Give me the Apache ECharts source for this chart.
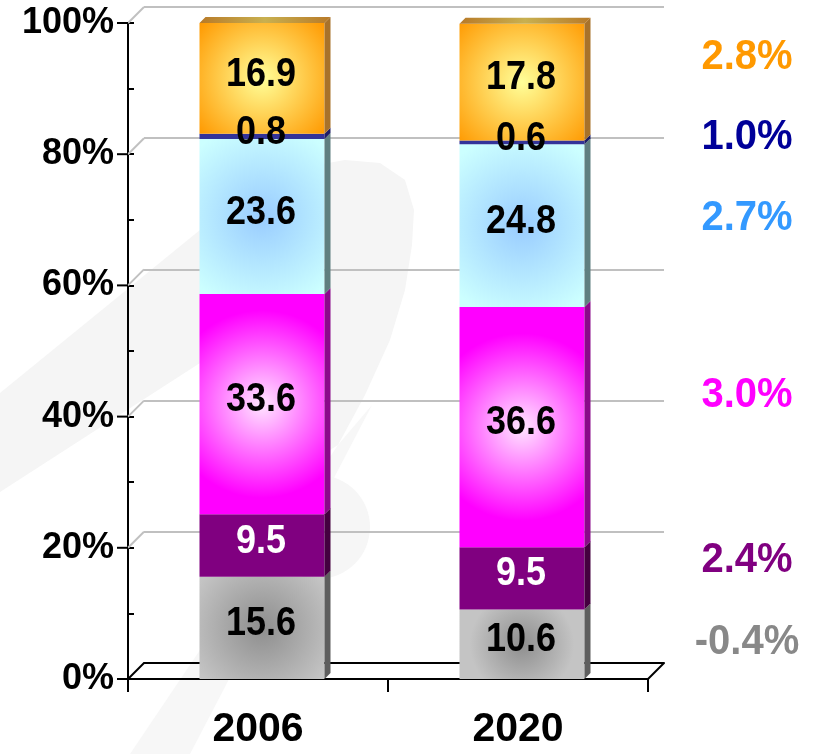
<!DOCTYPE html>
<html>
<head>
<meta charset="utf-8">
<script src="https://cdn.jsdelivr.net/npm/echarts@6/dist/echarts.min.js"></script>
<style>
  html, body { margin: 0; padding: 0; background: #fff; }
  #chart { width: 825px; height: 754px; }
</style>
</head>
<body>
<div id="chart"></div>
<script>
// categories and shares (% of total), stacked bottom to top
const years = ['2006', '2020'];
const segments = ['gray', 'purple', 'magenta', 'cyan', 'blue', 'orange'];
const shares2006 = [15.6, 9.5, 33.6, 23.6, 0.8, 16.9];
const shares2020 = [10.6, 9.5, 36.6, 24.8, 0.6, 17.8];
// growth rates written at the right side, and the height (in %) they sit at
const growth = ['-0.4%', '2.4%', '3.0%', '2.7%', '1.0%', '2.8%'];
const growthAt = [5.6, 18.1, 43.3, 70.3, 82.6, 94.7];
const yTicks = [0, 20, 40, 60, 80, 100];

const FONT = '"Liberation Sans", Arial, sans-serif';
const DEPTH = 6;
const BAR_W = 125;

function radial(edge, center) {
  return new echarts.graphic.RadialGradient(0.5, 0.5, 0.75, [
    { offset: 0, color: center },
    { offset: 1, color: edge }
  ]);
}

const faceStyle = [
  { color: radial('#c4c4c4', '#8e8e8e'), side: '#5e5e5e', label: '#000' },
  { color: '#800080', side: '#44003f', label: '#fff' },
  { color: radial('#ff00ff', '#ffe6ff'), side: '#8a0a8a', label: '#000' },
  { color: radial('#ccffff', '#99ccff'), side: '#5f7f80', label: '#000' },
  { color: '#333399', side: '#1d1d66', label: '#000' },
  { color: radial('#ff9900', '#ffff99'), side: '#a8722a', label: '#000' }
];

const chart = echarts.init(document.getElementById('chart'));

// one entry per stacked piece: [category, base, top, segment, isTop, value]
const pieces = [];
[shares2006, shares2020].forEach((arr, ci) => {
  let base = 0;
  arr.forEach((v, si) => {
    pieces.push([ci, base, base + v, si, si === arr.length - 1 ? 1 : 0, v]);
    base += v;
  });
});

const barSeries = segments.map((name, si) => ({
  name: name,
  type: 'bar',
  stack: 'total',
  xAxisIndex: 2,
  yAxisIndex: 2,
  barWidth: BAR_W,
  z: 3,
  itemStyle: { color: faceStyle[si].color },
  data: [shares2006[si], shares2020[si]]
}));

// side/top faces of the 3D bars plus the value labels (slightly tall type)
const depthSeries = {
  type: 'custom',
  xAxisIndex: 2,
  yAxisIndex: 2,
  z: 4,
  silent: true,
  data: pieces,
  renderItem: function (params, api) {
    const c = api.value(0);
    const b = api.coord([c, api.value(1)]);
    const t = api.coord([c, api.value(2)]);
    const lx = b[0] - BAR_W / 2;
    const rx = b[0] + BAR_W / 2;
    const si = api.value(3);
    const children = [{
      type: 'polygon',
      shape: { points: [[rx, b[1]], [rx + DEPTH, b[1] - DEPTH], [rx + DEPTH, t[1] - DEPTH], [rx, t[1]]] },
      style: { fill: faceStyle[si].side }
    }];
    if (api.value(4)) {
      children.push({
        type: 'polygon',
        shape: { points: [[lx, t[1]], [lx + DEPTH, t[1] - DEPTH], [rx + DEPTH, t[1] - DEPTH], [rx, t[1]]] },
        style: {
          fill: new echarts.graphic.LinearGradient(0, 0, 1, 0, [
            { offset: 0, color: '#b87a28' },
            { offset: 0.5, color: '#c8b050' },
            { offset: 1, color: '#b87a28' }
          ])
        }
      });
    }
    children.push({
      type: 'text',
      x: b[0] - 1,
      y: (b[1] + t[1]) / 2 - 4,
      scaleY: 1.12,
      z2: 10,
      style: {
        text: api.value(5).toFixed(1),
        font: 'bold 36px ' + FONT,
        fill: faceStyle[si].label,
        align: 'center',
        verticalAlign: 'middle'
      }
    });
    return { type: 'group', children: children };
  }
};

const hiddenY = {
  type: 'value', min: 0, max: 100, interval: 20,
  axisLine: { show: false }, axisTick: { show: false }, axisLabel: { show: false },
  splitLine: { show: false }
};
const hiddenX = {
  type: 'category', data: years,
  axisLine: { show: false }, axisTick: { show: false }, axisLabel: { show: false }
};

chart.setOption({
  animation: false,
  backgroundColor: '#fff',
  grid: [
    { left: 128, top: 23, width: 520, height: 656 },   // front: axes
    { left: 144, top: 7, width: 520, height: 656 },    // back wall: gridlines
    { left: 132, top: 23, width: 520, height: 656 }    // bars
  ],
  xAxis: [
    {
      gridIndex: 0, type: 'category', data: years,
      axisLine: { lineStyle: { color: '#000', width: 2 } },
      axisTick: { show: true, length: 13, lineStyle: { color: '#000', width: 2 } },
      axisLabel: { color: '#000', fontFamily: FONT, fontWeight: 'bold', fontSize: 41, margin: 30 }
    },
    {
      gridIndex: 1, type: 'category', data: years,
      axisLine: { lineStyle: { color: '#000', width: 2 } },
      axisTick: { show: false }, axisLabel: { show: false }
    },
    Object.assign({ gridIndex: 2 }, hiddenX)
  ],
  yAxis: [
    {
      gridIndex: 0, type: 'value', min: 0, max: 100, interval: 20,
      axisLine: { show: true, lineStyle: { color: '#000', width: 2 } },
      axisTick: { show: true, inside: true, length: 6, lineStyle: { color: '#000', width: 2 } },
      minorTick: { show: true, splitNumber: 2, length: 6, lineStyle: { color: '#000', width: 2 } },
      splitLine: { show: false },
      axisLabel: {
        color: '#000', fontFamily: FONT, fontWeight: 'bold', fontSize: 36, margin: 14,
        formatter: v => v + '%'
      }
    },
    {
      gridIndex: 1, type: 'value', min: 0, max: 100, interval: 20,
      axisLine: { show: false }, axisTick: { show: false }, axisLabel: { show: false },
      splitLine: { show: true, lineStyle: { color: '#c0c0c0', width: 2 } }
    },
    Object.assign({ gridIndex: 2 }, hiddenY)
  ],
  series: [depthSeries].concat(barSeries)
});

// faint watermark, wall connectors, floor edge and the growth-rate notes
const graphics = [
  {
    type: 'polygon', z: -10, silent: true,
    shape: { points: [[0, 393], [200, 230], [250, 195], [300, 168], [345, 160], [380, 163], [405, 180],
      [414, 210], [412, 245], [405, 290], [390, 340], [365, 395], [338, 445], [330, 450], [200, 363], [0, 492]] },
    style: { fill: '#f5f5f5' }
  },
  {
    type: 'polygon', z: -10, silent: true,
    shape: { points: [[130, 754], [338, 445], [372, 405], [190, 754]] },
    style: { fill: '#f7f7f7' }
  },
  {
    type: 'circle', z: -10, silent: true,
    shape: { cx: 318, cy: 527, r: 52 },
    style: { fill: '#f6f6f6' }
  }
];
yTicks.forEach(v => {
  const f = chart.convertToPixel({ gridIndex: 0 }, [0, v]);
  const k = chart.convertToPixel({ gridIndex: 1 }, [0, v]);
  graphics.push({
    type: 'line', z: 1,
    shape: { x1: 128, y1: f[1], x2: 144, y2: k[1] },
    style: { stroke: v === 0 ? '#000' : '#c0c0c0', lineWidth: 2 }
  });
  graphics.push({
    type: 'line', z: 6,
    shape: { x1: 117, y1: f[1], x2: 128, y2: f[1] },
    style: { stroke: '#000', lineWidth: 2 }
  });
});
const floorFront = chart.convertToPixel({ gridIndex: 0 }, [1, 0]);
const floorBack = chart.convertToPixel({ gridIndex: 1 }, [1, 0]);
graphics.push({
  type: 'line', z: 1,
  shape: { x1: 648, y1: floorFront[1], x2: 664, y2: floorBack[1] },
  style: { stroke: '#000', lineWidth: 2 }
});
const growthColors = ['#888888', '#800080', '#ff00ff', '#3399ff', '#000099', '#ff9900'];
growth.forEach((txt, i) => {
  const y = chart.convertToPixel({ yAxisIndex: 0 }, growthAt[i]);
  graphics.push({
    type: 'text', z: 5,
    x: 747, y: y, scaleY: 1.06,
    style: {
      text: txt, fill: growthColors[i],
      font: 'bold 40px ' + FONT,
      align: 'center', verticalAlign: 'middle'
    }
  });
});
chart.setOption({ graphic: graphics });
</script>
</body>
</html>
